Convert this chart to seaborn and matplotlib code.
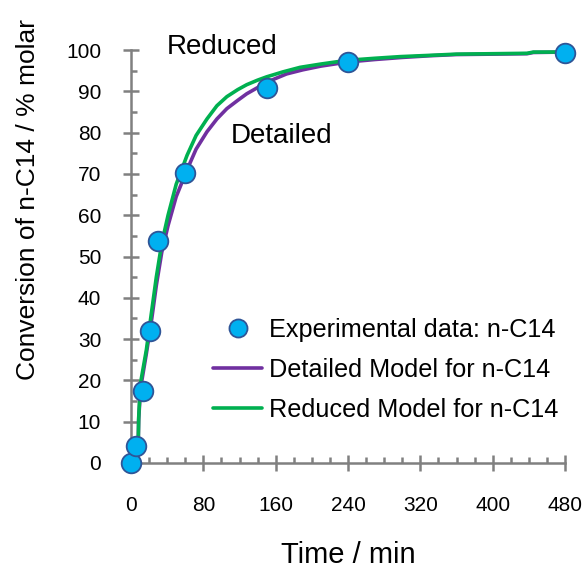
import matplotlib
matplotlib.use("Agg")
import matplotlib.pyplot as plt
import seaborn as sns
import pandas as pd
from matplotlib.lines import Line2D
from matplotlib.ticker import MultipleLocator

# Experimental data
exp_t = [0, 6, 13, 21, 30, 60, 150, 240, 480]
exp_y = [0, 4, 17.4, 32, 53.8, 70.2, 90.7, 97.2, 99.2]

# Reduced model
red_t = [7, 8, 8.5, 10.5, 17, 23, 28, 34, 41, 50, 62, 72, 84, 95, 106, 118, 128,
         140, 150, 168, 187, 210, 239, 270, 298, 330, 360, 400, 438, 445, 480]
red_y = [1, 5, 11, 19.3, 27.4, 37, 45, 53.2, 60, 67.5, 74.5, 79.3, 83.3, 86.5, 88.7,
         90.4, 91.6, 92.7, 93.5, 94.7, 95.8, 96.6, 97.5, 98, 98.4, 98.7, 99, 99.1, 99.2, 99.5, 99.5]

# Detailed model
det_t = [7, 8, 8.5, 10.5, 17, 23, 28, 34, 41, 50, 62, 72, 84, 95, 106, 118, 128,
         140, 150, 172, 190, 210, 240, 270, 300, 330, 360, 400, 438, 445, 480]
det_y = [1, 5, 10.5, 18, 26.5, 35, 43, 51, 57.5, 64.5, 71, 76, 80.2, 83.3, 85.8, 87.8,
         89.4, 90.9, 92.2, 94.2, 95.2, 96.1, 97.1, 97.7, 98.2, 98.6, 98.9, 99, 99.1, 99.4, 99.5]

x_ticks = [0, 80, 160, 240, 320, 400, 480]
y_ticks = [0, 10, 20, 30, 40, 50, 60, 70, 80, 90, 100]

sns.set_style("ticks")
plt.rcParams['font.family'] = ['Liberation Sans', 'DejaVu Sans']
plt.rcParams['text.color'] = 'black'
plt.rcParams['axes.labelcolor'] = 'black'

fig = plt.figure(figsize=(5.87, 5.69), dpi=100)
ax = fig.add_axes([131/587, 106/569, 434/587, 413/569])

purple = "#7030A0"
green = "#00B050"
mfc = "#00B0F0"
mec = "#2F5597"

det_df = pd.DataFrame({"t": det_t, "y": det_y})
red_df = pd.DataFrame({"t": red_t, "y": red_y})
exp_df = pd.DataFrame({"t": exp_t, "y": exp_y})

sns.lineplot(data=det_df, x="t", y="y", ax=ax, color=purple, lw=2.6, sort=False,
             estimator=None, zorder=3, clip_on=False)
sns.lineplot(data=red_df, x="t", y="y", ax=ax, color=green, lw=2.6, sort=False,
             estimator=None, zorder=4, clip_on=False)
sns.scatterplot(data=exp_df, x="t", y="y", ax=ax, s=200, color=mfc, edgecolor=mec,
                linewidth=1.3, zorder=5, clip_on=False)

ax.set_xlim(0, 480)
ax.set_ylim(0, 100)
ax.set_xticks(x_ticks)
ax.set_yticks(y_ticks)
ax.xaxis.set_minor_locator(MultipleLocator(20))
ax.yaxis.set_minor_locator(MultipleLocator(5))

gray = "#808080"
for s in ["top", "right"]:
    ax.spines[s].set_visible(False)
for s in ["left", "bottom"]:
    ax.spines[s].set_color(gray)
    ax.spines[s].set_linewidth(1.8)

ax.tick_params(axis="both", which="major", direction="inout", length=11, width=1.8,
               color=gray, labelsize=15, labelcolor="black")
ax.tick_params(axis="both", which="minor", direction="in", length=4.5, width=1.8,
               color=gray)
ax.tick_params(axis="y", which="major", pad=16)
ax.tick_params(axis="x", which="major", pad=18)

ax.set_xlabel("Time / min", fontsize=21, va="top", color="black")
ax.xaxis.set_label_coords(217/434, -(541-463)/413)
ax.set_ylabel("Conversion of n-C14 / % molar", fontsize=19, color="black")
ax.yaxis.set_label_coords(-(131-40)/434, (463-200)/413)

ax.text(100.7, 100.7, "Reduced", fontsize=20, ha="center", va="center", color="black")
ax.text(167, 79.2, "Detailed", fontsize=20, ha="center", va="center", color="black")

handles = [
    Line2D([], [], ls="none", marker="o", markersize=13, markerfacecolor=mfc,
           markeredgecolor=mec, markeredgewidth=1.3),
    Line2D([], [], color=purple, lw=2.6),
    Line2D([], [], color=green, lw=2.6),
]
labels = ["Experimental data: n-C14", "Detailed Model for n-C14",
          "Reduced Model for n-C14"]
leg = ax.legend(handles, labels, loc="center left", bbox_to_anchor=(82/434, (463-370)/413),
                frameon=False, fontsize=18.2, handlelength=1.95, handletextpad=0.25,
                labelspacing=0.62, borderpad=0, borderaxespad=0)
for t in leg.get_texts():
    t.set_color("black")

fig.savefig("out.png", dpi=100)
